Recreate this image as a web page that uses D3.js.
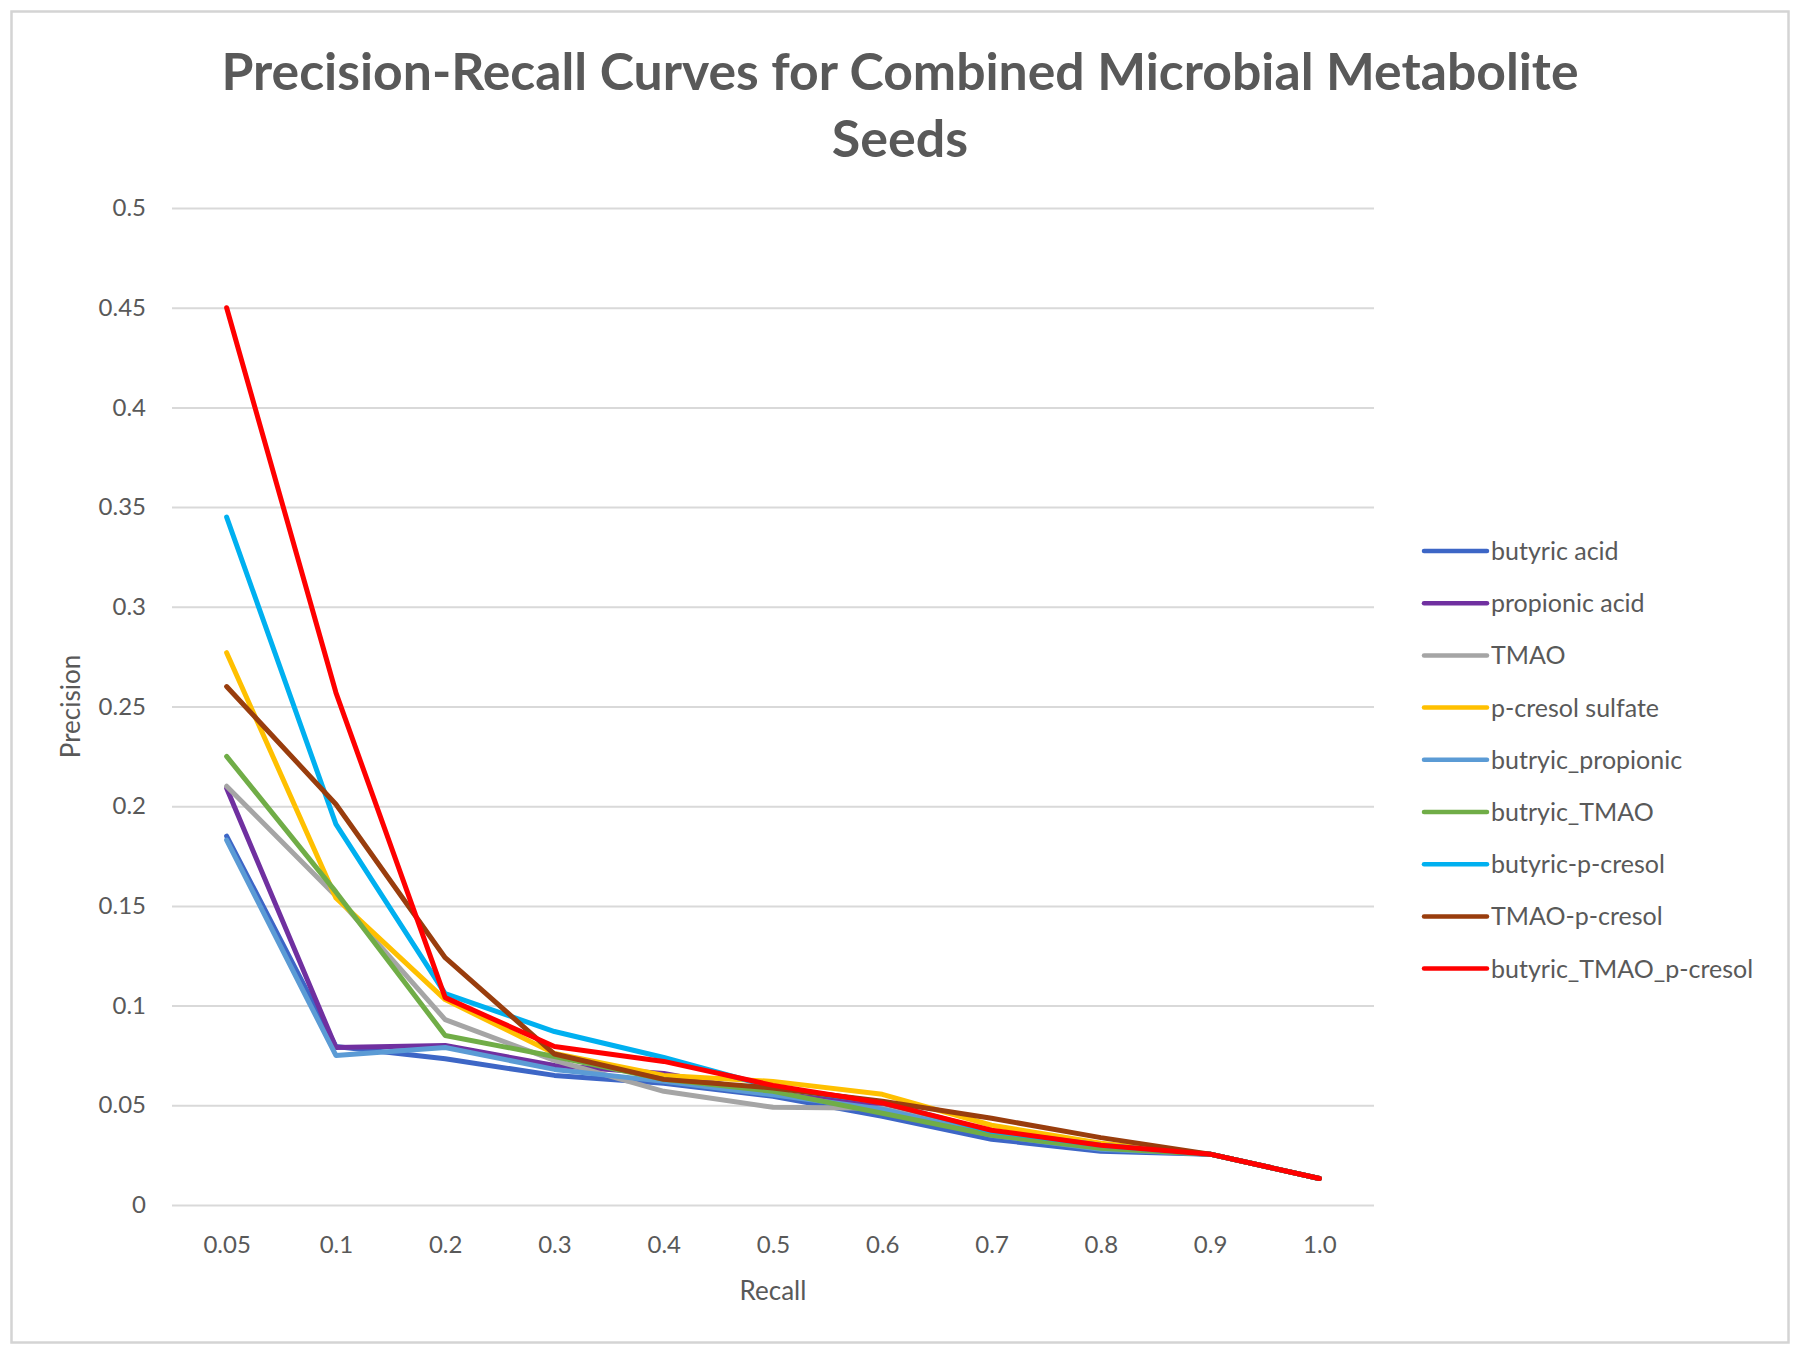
<!DOCTYPE html>
<html>
<head>
<meta charset="utf-8">
<script src="https://cdn.jsdelivr.net/npm/d3@7"></script>
<style>
  html, body { margin: 0; padding: 0; background: #ffffff; }
  svg { display: block; }
  text { font-family: Lato, "Open Sans", "Liberation Sans", sans-serif; fill: #595959; }
</style>
</head>
<body>
<svg id="chart" width="1800" height="1355"></svg>
<script>
// ---------------- DATA ----------------
const recall = ["0.05", "0.1", "0.2", "0.3", "0.4", "0.5", "0.6", "0.7", "0.8", "0.9", "1.0"];

const yTickValues = [0, 0.05, 0.1, 0.15, 0.2, 0.25, 0.3, 0.35, 0.4, 0.45, 0.5];
const yTickLabels = ["0", "0.05", "0.1", "0.15", "0.2", "0.25", "0.3", "0.35", "0.4", "0.45", "0.5"];

const seriesNames = [
  "butyric acid", "propionic acid", "TMAO", "p-cresol sulfate", "butryic_propionic",
  "butryic_TMAO", "butyric-p-cresol", "TMAO-p-cresol", "butyric_TMAO_p-cresol"
];
const seriesColors = [
  "#3d66c6", "#7030a0", "#a5a5a5", "#ffc000", "#5b9bd5",
  "#70ad47", "#00b0f0", "#993d0d", "#ff0000"
];

const butyricAcid        = [0.185, 0.0795, 0.0733, 0.065, 0.061, 0.0545, 0.0445, 0.033, 0.027, 0.0255, 0.0133];
const propionicAcid      = [0.209, 0.079, 0.080, 0.070, 0.066, 0.056, 0.050, 0.036, 0.029, 0.0255, 0.0133];
const tmao               = [0.210, 0.155, 0.093, 0.0725, 0.057, 0.049, 0.0485, 0.036, 0.029, 0.0255, 0.0133];
const pCresolSulfate     = [0.277, 0.154, 0.103, 0.076, 0.065, 0.062, 0.0555, 0.040, 0.031, 0.0255, 0.0133];
const butryicPropionic   = [0.183, 0.075, 0.079, 0.068, 0.062, 0.0553, 0.048, 0.035, 0.028, 0.0255, 0.0133];
const butryicTmao        = [0.225, 0.157, 0.085, 0.0745, 0.063, 0.057, 0.046, 0.035, 0.0285, 0.0255, 0.0133];
const butyricPCresol     = [0.345, 0.191, 0.106, 0.087, 0.074, 0.059, 0.0515, 0.037, 0.030, 0.0255, 0.0133];
const tmaoPCresol        = [0.260, 0.201, 0.124, 0.0757, 0.063, 0.0587, 0.052, 0.0435, 0.0338, 0.0255, 0.0133];
const butyricTmaoPCresol = [0.450, 0.257, 0.104, 0.0795, 0.072, 0.060, 0.0512, 0.0375, 0.030, 0.0255, 0.0133];

const seriesValues = [
  butyricAcid, propionicAcid, tmao, pCresolSulfate, butryicPropionic,
  butryicTmao, butyricPCresol, tmaoPCresol, butyricTmaoPCresol
];

const titleLines = ["Precision-Recall Curves for Combined Microbial Metabolite", "Seeds"];
const xTitle = "Recall";
const yTitle = "Precision";

// ---------------- LAYOUT ----------------
const svg = d3.select("#chart");
const W = 1800, H = 1355;
const plot = { left: 172, right: 1374, top: 208, bottom: 1205 };

svg.append("rect").attr("x", 0).attr("y", 0).attr("width", W).attr("height", H).attr("fill", "#ffffff");
svg.append("rect")
  .attr("x", 11.5).attr("y", 11.5).attr("width", 1777).attr("height", 1331)
  .attr("fill", "none").attr("stroke", "#d4d4d4").attr("stroke-width", 2.5);

const x = d3.scalePoint().domain(recall).range([plot.left, plot.right]).padding(0.5);
const y = d3.scaleLinear().domain([0, 0.5]).range([plot.bottom, plot.top]);

// gridlines + y labels
const yAxis = d3.axisLeft(y)
  .tickValues(yTickValues)
  .tickFormat((d, i) => yTickLabels[i])
  .tickSize(-(plot.right - plot.left))
  .tickPadding(26);
const gy = svg.append("g").attr("transform", `translate(${plot.left},0)`).call(yAxis);
gy.select(".domain").remove();
gy.selectAll(".tick line").attr("stroke", "#d9d9d9").attr("stroke-width", 2);
gy.selectAll(".tick text").style("font-size", "24px").attr("fill", "#595959");

// x labels
const xAxis = d3.axisBottom(x).tickSize(0).tickPadding(31);
const gx = svg.append("g").attr("transform", `translate(0,${plot.bottom})`).call(xAxis);
gx.select(".domain").remove();
gx.selectAll(".tick text").style("font-size", "24px").attr("fill", "#595959");

// lines
const line = d3.line()
  .x((d, i) => x(recall[i]))
  .y(d => y(d));

svg.append("g").selectAll("path")
  .data(seriesValues)
  .join("path")
  .attr("d", d => line(d))
  .attr("fill", "none")
  .attr("stroke", (d, i) => seriesColors[i])
  .attr("stroke-width", 5)
  .attr("stroke-linejoin", "round")
  .attr("stroke-linecap", "round");

// title
const title = svg.append("g");
title.append("text")
  .attr("x", 900).attr("y", 90)
  .attr("text-anchor", "middle")
  .attr("textLength", 1357).attr("lengthAdjust", "spacingAndGlyphs")
  .style("font-size", "52px").style("font-weight", "bold")
  .text(titleLines[0]);
title.append("text")
  .attr("x", 900).attr("y", 157)
  .attr("text-anchor", "middle")
  .style("font-size", "52px").style("font-weight", "bold")
  .text(titleLines[1]);

// axis titles
svg.append("text")
  .attr("x", (plot.left + plot.right) / 2).attr("y", 1300)
  .attr("text-anchor", "middle")
  .style("font-size", "26px")
  .text(xTitle);
svg.append("text")
  .attr("transform", `translate(80,${(plot.top + plot.bottom) / 2}) rotate(-90)`)
  .attr("text-anchor", "middle")
  .style("font-size", "26px")
  .text(yTitle);

// legend
const legend = svg.append("g");
const legendTop = 551, legendStep = 52.2;
const items = legend.selectAll("g").data(seriesNames).join("g")
  .attr("transform", (d, i) => `translate(0,${legendTop + i * legendStep})`);
items.append("line")
  .attr("x1", 1424).attr("x2", 1487).attr("y1", 0).attr("y2", 0)
  .attr("stroke", (d, i) => seriesColors[i])
  .attr("stroke-width", 4.5).attr("stroke-linecap", "round");
items.append("text")
  .attr("x", 1491).attr("y", 0).attr("dy", "0.36em")
  .style("font-size", "25px")
  .text(d => d);
</script>
</body>
</html>
